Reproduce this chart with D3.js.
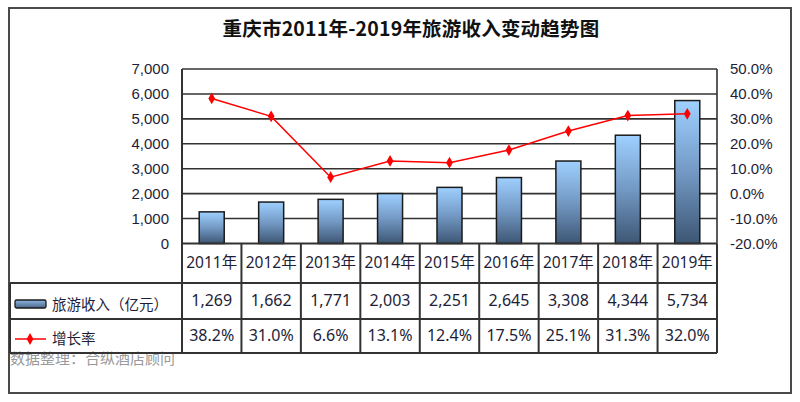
<!DOCTYPE html>
<html><head><meta charset="utf-8">
<script src="https://cdn.jsdelivr.net/npm/d3@7"></script>
<style>
html,body{margin:0;padding:0;background:#fff;}
svg{display:block;}
</style></head>
<body>
<script>
const years = ["2011年","2012年","2013年","2014年","2015年","2016年","2017年","2018年","2019年"];
const revenue = [1269,1662,1771,2003,2251,2645,3308,4344,5734];
const revenueLabels = ["1,269","1,662","1,771","2,003","2,251","2,645","3,308","4,344","5,734"];
const growth = [38.2,31.0,6.6,13.1,12.4,17.5,25.1,31.3,32.0];
const growthLabels = ["38.2%","31.0%","6.6%","13.1%","12.4%","17.5%","25.1%","31.3%","32.0%"];
const leftTicks = [0,1000,2000,3000,4000,5000,6000,7000];
const rightTicks = [-20,-10,0,10,20,30,40,50];
const seriesNames = ["旅游收入（亿元）","增长率"];
const title = "重庆市2011年-2019年旅游收入变动趋势图";
const source = "数据整理：合纵酒店顾问";

const W=800,H=402;
const svg=d3.select("body").append("svg").attr("width",W).attr("height",H);
const tableFont="'Noto Sans','Noto Sans CJK SC',sans-serif";
const textColor="#1e1e38";
const lineCol="#333";

// outer border
svg.append("rect").attr("x",9).attr("y",8).attr("width",782).attr("height",385)
  .attr("fill","#fff").attr("stroke","#4a4a4a").attr("stroke-width",2);

// title
svg.append("text").attr("x",411).attr("y",36).attr("text-anchor","middle")
  .attr("font-family","'Noto Sans CJK SC',sans-serif").attr("font-weight","bold")
  .attr("font-size",19.5).attr("letter-spacing",0.2).attr("fill","#111").text(title);

const pLeft=182,pRight=717,pTop=69,pBottom=243.5;
const x=d3.scaleBand().domain(years).range([pLeft,pRight]).paddingInner(0).paddingOuter(0);
const yL=d3.scaleLinear().domain([0,7000]).range([pBottom,pTop]);
const yR=d3.scaleLinear().domain([-20,50]).range([pBottom,pTop]);

// gradient
const defs=svg.append("defs");
const g=defs.append("linearGradient").attr("id","barGrad").attr("x1",0).attr("y1",0).attr("x2",0).attr("y2",1);
g.append("stop").attr("offset","0%").attr("stop-color","#9fd0ff");
g.append("stop").attr("offset","50%").attr("stop-color","#7399c4");
g.append("stop").attr("offset","100%").attr("stop-color","#3d5674");
const lg=defs.append("linearGradient").attr("id","legGrad").attr("x1",0).attr("y1",0).attr("x2",0).attr("y2",1);
lg.append("stop").attr("offset","0%").attr("stop-color","#8fb8e4");
lg.append("stop").attr("offset","100%").attr("stop-color","#4a6584");

// gridlines
svg.append("g").selectAll("line").data(leftTicks.filter(d=>d>0)).join("line")
  .attr("x1",pLeft).attr("x2",pRight).attr("y1",d=>yL(d)).attr("y2",d=>yL(d))
  .attr("stroke",lineCol).attr("stroke-width",1.6);
svg.append("line").attr("x1",pRight).attr("x2",pRight).attr("y1",pTop).attr("y2",pBottom).attr("stroke",lineCol).attr("stroke-width",1.6);

// left axis
const axL=svg.append("g").attr("transform",`translate(${pLeft},0)`)
  .call(d3.axisLeft(yL).tickValues(leftTicks).tickSize(0).tickPadding(13).tickFormat(d3.format(",")));
axL.select(".domain").remove();
axL.selectAll("text").attr("font-family","'Liberation Sans',Arial,sans-serif").attr("font-size",15).attr("fill",textColor);

// right axis
const axR=svg.append("g").attr("transform",`translate(${pRight},0)`)
  .call(d3.axisRight(yR).tickValues(rightTicks).tickSize(0).tickPadding(13)
    .tickFormat(d=>(d<0?"-":"")+Math.abs(d).toFixed(1)+"%"));
axR.select(".domain").remove();
axR.selectAll("text").attr("font-family","'Liberation Sans',Arial,sans-serif").attr("font-size",15).attr("fill",textColor);

// bars
const bw=25;
svg.append("g").selectAll("rect").data(revenue).join("rect")
  .attr("x",(d,i)=>x(years[i])+x.bandwidth()/2-bw/2)
  .attr("y",d=>yL(d)).attr("width",bw).attr("height",d=>pBottom-yL(d))
  .attr("fill","url(#barGrad)").attr("stroke","#1a1a1a").attr("stroke-width",1.5);

// line
const line=d3.line().x((d,i)=>x(years[i])+x.bandwidth()/2).y(d=>yR(d));
svg.append("path").datum(growth).attr("d",line).attr("fill","none").attr("stroke","#ff0000").attr("stroke-width",1.5);
svg.append("g").selectAll("path").data(growth).join("path")
  .attr("transform",(d,i)=>`translate(${x(years[i])+x.bandwidth()/2},${yR(d)})`)
  .attr("d",d3.symbol(d3.symbolDiamond,40)).attr("fill","#ff0000");

// table
const rowBot=353;
svg.append("text").attr("x",10).attr("y",364).attr("font-family","'Noto Sans CJK SC',sans-serif")
  .attr("font-size",15).attr("fill","#9a9a9a").text(source);
const tbl=svg.append("g");
tbl.append("line").attr("x1",pLeft).attr("x2",pRight).attr("y1",pBottom).attr("y2",pBottom).attr("stroke",lineCol).attr("stroke-width",2);
[283,319,rowBot].forEach(yy=>{
  tbl.append("line").attr("x1",10).attr("x2",pRight).attr("y1",yy).attr("y2",yy).attr("stroke",lineCol).attr("stroke-width",2);
});
tbl.append("line").attr("x1",10).attr("x2",10).attr("y1",283).attr("y2",rowBot).attr("stroke",lineCol).attr("stroke-width",2);
tbl.append("line").attr("x1",pLeft).attr("x2",pLeft).attr("y1",pTop).attr("y2",rowBot).attr("stroke",lineCol).attr("stroke-width",2);
years.forEach(yv=>{
  const xr=x(yv)+x.bandwidth();
  tbl.append("line").attr("x1",xr).attr("x2",xr).attr("y1",pBottom).attr("y2",rowBot).attr("stroke",lineCol).attr("stroke-width",2);
});
tbl.selectAll("text.yr").data(years).join("text").attr("class","yr")
  .attr("x",d=>x(d)+x.bandwidth()/2).attr("y",268).attr("text-anchor","middle")
  .attr("font-family",tableFont).attr("font-size",15.5).attr("fill",textColor).text(d=>d);
tbl.selectAll("text.rv").data(revenueLabels).join("text").attr("class","rv")
  .attr("x",(d,i)=>x(years[i])+x.bandwidth()/2).attr("y",306).attr("text-anchor","middle")
  .attr("font-family",tableFont).attr("font-size",16).attr("fill",textColor).text(d=>d);
tbl.selectAll("text.gr").data(growthLabels).join("text").attr("class","gr")
  .attr("x",(d,i)=>x(years[i])+x.bandwidth()/2).attr("y",341).attr("text-anchor","middle")
  .attr("font-family",tableFont).attr("font-size",16).attr("fill",textColor).text(d=>d);

// legend
tbl.append("rect").attr("x",15).attr("y",300).attr("width",31).attr("height",8).attr("rx",1.5)
  .attr("fill","url(#legGrad)").attr("stroke","#1a1a1a").attr("stroke-width",1.3);
tbl.append("line").attr("x1",15).attr("x2",46).attr("y1",339).attr("y2",339).attr("stroke","#ff0000").attr("stroke-width",1.5);
tbl.append("path").attr("transform","translate(30,339)").attr("d",d3.symbol(d3.symbolDiamond,40)).attr("fill","#ff0000");
tbl.append("text").attr("x",52).attr("y",310).attr("font-family","'Noto Sans CJK SC',sans-serif")
  .attr("font-size",14.5).attr("fill",textColor).text(seriesNames[0]);
tbl.append("text").attr("x",52).attr("y",344).attr("font-family","'Noto Sans CJK SC',sans-serif")
  .attr("font-size",14.5).attr("fill",textColor).text(seriesNames[1]);
</script>
</body></html>
